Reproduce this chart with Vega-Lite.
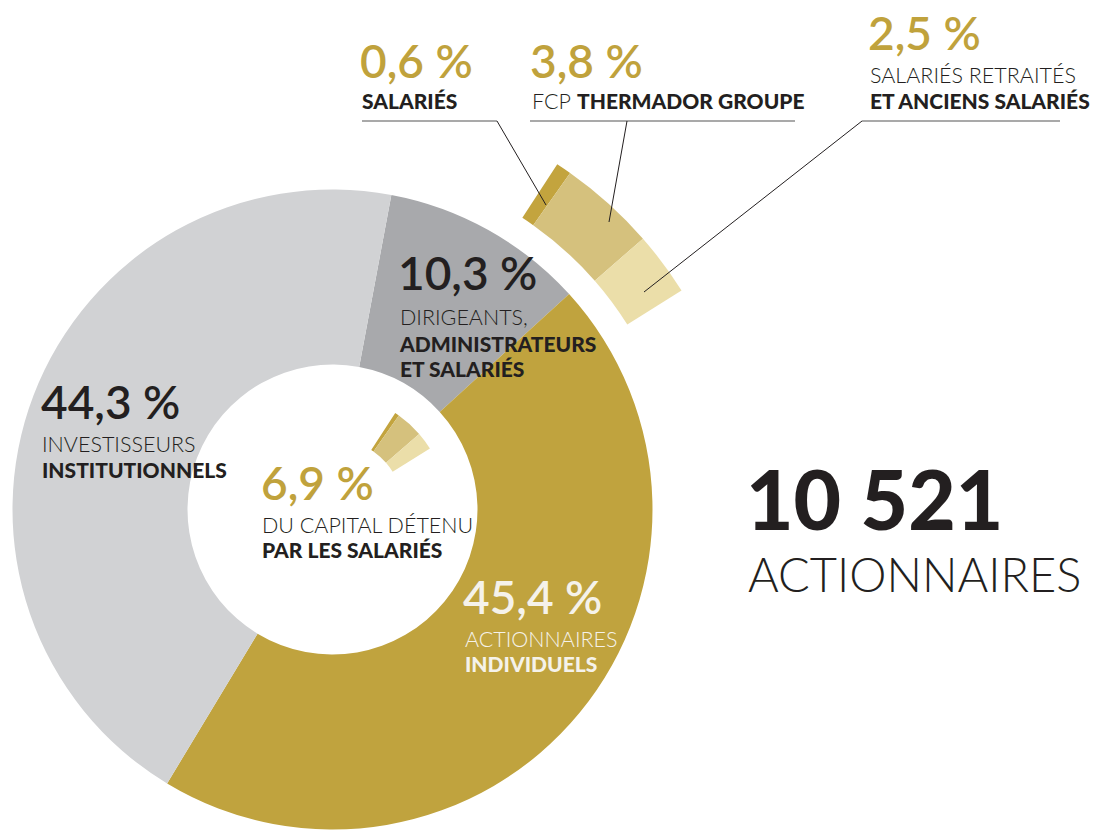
{
  "$schema": "https://vega.github.io/schema/vega-lite/v6.json",
  "width": 1094,
  "height": 830,
  "padding": 0,
  "autosize": {"type": "none"},
  "background": "white",
  "config": {"view": {"stroke": null}, "text": {"font": "Lato"}},
  "datasets": {
    "main": [
      {"group": "Dirigeants, administrateurs et salariés", "value": 10.3, "rank": 1},
      {"group": "Actionnaires individuels", "value": 45.4, "rank": 2},
      {"group": "Investisseurs institutionnels", "value": 44.3, "rank": 3}
    ],
    "staff": [
      {"group": "Salariés", "value": 0.6, "rank": 1},
      {"group": "FCP Thermador Groupe", "value": 3.8, "rank": 2},
      {"group": "Salariés retraités et anciens salariés", "value": 2.5, "rank": 3}
    ]
  },
  "layer": [
    {
      "data": {"name": "main"},
      "mark": {"type": "arc", "x": 332.5, "y": 509.5, "innerRadius": 145, "outerRadius": 320},
      "encoding": {
        "theta": {"field": "value", "type": "quantitative", "stack": true, "scale": {"domain": [0, 100], "range": [0.185, 6.4682]}},
        "order": {"field": "rank", "type": "quantitative"},
        "color": {"field": "group", "type": "nominal", "legend": null,
          "scale": {"domain": ["Dirigeants, administrateurs et salariés", "Actionnaires individuels", "Investisseurs institutionnels"], "range": ["#a8a9ac", "#c0a33e", "#d1d2d4"]}}
      }
    },
    {
      "data": {"name": "staff"},
      "mark": {"type": "arc", "x": 332.5, "y": 509.5, "innerRadius": 348, "outerRadius": 412},
      "encoding": {
        "theta": {"field": "value", "type": "quantitative", "stack": true, "scale": {"domain": [0, 100], "range": [0.577, 6.8602]}},
        "order": {"field": "rank", "type": "quantitative"},
        "color": {"field": "group", "type": "nominal", "legend": null,
          "scale": {"domain": ["Salariés", "FCP Thermador Groupe", "Salariés retraités et anciens salariés"], "range": ["#c3a43e", "#d5c17d", "#ebdea9"]}}
      }
    },
    {
      "data": {"name": "staff"},
      "mark": {"type": "arc", "x": 332.5, "y": 509.5, "innerRadius": 71, "outerRadius": 115},
      "encoding": {
        "theta": {"field": "value", "type": "quantitative", "stack": true, "scale": {"domain": [0, 100], "range": [0.577, 6.8602]}},
        "order": {"field": "rank", "type": "quantitative"},
        "color": {"field": "group", "type": "nominal", "legend": null,
          "scale": {"domain": ["Salariés", "FCP Thermador Groupe", "Salariés retraités et anciens salariés"], "range": ["#c3a43e", "#d5c17d", "#ebdea9"]}}
      }
    },
    {"data": {"values": [{}]}, "mark": {"type": "rule", "stroke": "#8c8c8c", "strokeWidth": 1.5}, "encoding": {"x": {"value": 362}, "y": {"value": 121}, "x2": {"value": 497}, "y2": {"value": 121}}},
    {"data": {"values": [{}]}, "mark": {"type": "rule", "stroke": "#8c8c8c", "strokeWidth": 1.5}, "encoding": {"x": {"value": 530}, "y": {"value": 121}, "x2": {"value": 795}, "y2": {"value": 121}}},
    {"data": {"values": [{}]}, "mark": {"type": "rule", "stroke": "#8c8c8c", "strokeWidth": 1.5}, "encoding": {"x": {"value": 862}, "y": {"value": 121}, "x2": {"value": 1060}, "y2": {"value": 121}}},
    {"data": {"values": [{}]}, "mark": {"type": "rule", "stroke": "#231f20", "strokeWidth": 1}, "encoding": {"x": {"value": 497}, "y": {"value": 121}, "x2": {"value": 546}, "y2": {"value": 205}}},
    {"data": {"values": [{}]}, "mark": {"type": "rule", "stroke": "#231f20", "strokeWidth": 1}, "encoding": {"x": {"value": 627}, "y": {"value": 121}, "x2": {"value": 609}, "y2": {"value": 222}}},
    {"data": {"values": [{}]}, "mark": {"type": "rule", "stroke": "#231f20", "strokeWidth": 1}, "encoding": {"x": {"value": 862}, "y": {"value": 121}, "x2": {"value": 644}, "y2": {"value": 292}}},

    {"data": {"values": [{"label": "44,3 %"}]}, "mark": {"type": "text", "x": 41, "y": 419, "align": "left", "baseline": "alphabetic", "fontSize": 46, "fontWeight": 600, "color": "#231f20"}, "encoding": {"text": {"field": "label"}}},
    {"data": {"values": [{"label": "INVESTISSEURS"}]}, "mark": {"type": "text", "x": 42, "y": 452, "align": "left", "baseline": "alphabetic", "fontSize": 21.5, "fontWeight": 300, "color": "#231f20"}, "encoding": {"text": {"field": "label"}}},
    {"data": {"values": [{"label": "INSTITUTIONNELS"}]}, "mark": {"type": "text", "x": 42, "y": 478, "align": "left", "baseline": "alphabetic", "fontSize": 21, "fontWeight": 900, "color": "#231f20"}, "encoding": {"text": {"field": "label"}}},

    {"data": {"values": [{"label": "10,3 %"}]}, "mark": {"type": "text", "x": 398, "y": 290, "align": "left", "baseline": "alphabetic", "fontSize": 46, "fontWeight": 600, "color": "#231f20"}, "encoding": {"text": {"field": "label"}}},
    {"data": {"values": [{"label": "DIRIGEANTS,"}]}, "mark": {"type": "text", "x": 400, "y": 325, "align": "left", "baseline": "alphabetic", "fontSize": 21.5, "fontWeight": 300, "color": "#231f20"}, "encoding": {"text": {"field": "label"}}},
    {"data": {"values": [{"label": "ADMINISTRATEURS"}]}, "mark": {"type": "text", "x": 400, "y": 352, "align": "left", "baseline": "alphabetic", "fontSize": 21, "fontWeight": 900, "color": "#231f20"}, "encoding": {"text": {"field": "label"}}},
    {"data": {"values": [{"label": "ET SALARIÉS"}]}, "mark": {"type": "text", "x": 400, "y": 377, "align": "left", "baseline": "alphabetic", "fontSize": 21, "fontWeight": 900, "color": "#231f20"}, "encoding": {"text": {"field": "label"}}},

    {"data": {"values": [{"label": "6,9 %"}]}, "mark": {"type": "text", "x": 261, "y": 500, "align": "left", "baseline": "alphabetic", "fontSize": 46, "fontWeight": 600, "color": "#c0a23c"}, "encoding": {"text": {"field": "label"}}},
    {"data": {"values": [{"label": "DU CAPITAL DÉTENU"}]}, "mark": {"type": "text", "x": 262, "y": 533, "align": "left", "baseline": "alphabetic", "fontSize": 21.5, "fontWeight": 300, "color": "#231f20"}, "encoding": {"text": {"field": "label"}}},
    {"data": {"values": [{"label": "PAR LES SALARIÉS"}]}, "mark": {"type": "text", "x": 262, "y": 558, "align": "left", "baseline": "alphabetic", "fontSize": 21, "fontWeight": 900, "color": "#231f20"}, "encoding": {"text": {"field": "label"}}},

    {"data": {"values": [{"label": "45,4 %"}]}, "mark": {"type": "text", "x": 463, "y": 614, "align": "left", "baseline": "alphabetic", "fontSize": 46, "fontWeight": 600, "color": "#f5f2ea"}, "encoding": {"text": {"field": "label"}}},
    {"data": {"values": [{"label": "ACTIONNAIRES"}]}, "mark": {"type": "text", "x": 465, "y": 647, "align": "left", "baseline": "alphabetic", "fontSize": 21.5, "fontWeight": 300, "color": "#f5f2ea"}, "encoding": {"text": {"field": "label"}}},
    {"data": {"values": [{"label": "INDIVIDUELS"}]}, "mark": {"type": "text", "x": 465, "y": 672, "align": "left", "baseline": "alphabetic", "fontSize": 21, "fontWeight": 900, "color": "#f5f2ea"}, "encoding": {"text": {"field": "label"}}},

    {"data": {"values": [{"label": "0,6 %"}]}, "mark": {"type": "text", "x": 360, "y": 78, "align": "left", "baseline": "alphabetic", "fontSize": 46, "fontWeight": 600, "color": "#c0a23c"}, "encoding": {"text": {"field": "label"}}},
    {"data": {"values": [{"label": "SALARIÉS"}]}, "mark": {"type": "text", "x": 362, "y": 109, "align": "left", "baseline": "alphabetic", "fontSize": 21, "fontWeight": 900, "color": "#231f20"}, "encoding": {"text": {"field": "label"}}},

    {"data": {"values": [{"label": "3,8 %"}]}, "mark": {"type": "text", "x": 530, "y": 78, "align": "left", "baseline": "alphabetic", "fontSize": 46, "fontWeight": 600, "color": "#c0a23c"}, "encoding": {"text": {"field": "label"}}},
    {"data": {"values": [{"label": "FCP"}]}, "mark": {"type": "text", "x": 532, "y": 109, "align": "left", "baseline": "alphabetic", "fontSize": 21.5, "fontWeight": 300, "color": "#231f20"}, "encoding": {"text": {"field": "label"}}},
    {"data": {"values": [{"label": "THERMADOR GROUPE"}]}, "mark": {"type": "text", "x": 577, "y": 109, "align": "left", "baseline": "alphabetic", "fontSize": 21, "fontWeight": 900, "color": "#231f20"}, "encoding": {"text": {"field": "label"}}},

    {"data": {"values": [{"label": "2,5 %"}]}, "mark": {"type": "text", "x": 868, "y": 50, "align": "left", "baseline": "alphabetic", "fontSize": 46, "fontWeight": 600, "color": "#c0a23c"}, "encoding": {"text": {"field": "label"}}},
    {"data": {"values": [{"label": "SALARIÉS RETRAITÉS"}]}, "mark": {"type": "text", "x": 870, "y": 83, "align": "left", "baseline": "alphabetic", "fontSize": 21.5, "fontWeight": 300, "color": "#231f20"}, "encoding": {"text": {"field": "label"}}},
    {"data": {"values": [{"label": "ET ANCIENS SALARIÉS"}]}, "mark": {"type": "text", "x": 870, "y": 109, "align": "left", "baseline": "alphabetic", "fontSize": 21, "fontWeight": 900, "color": "#231f20"}, "encoding": {"text": {"field": "label"}}},

    {"data": {"values": [{"label": "10 521"}]}, "mark": {"type": "text", "x": 746, "y": 530, "align": "left", "baseline": "alphabetic", "fontSize": 82, "fontWeight": 900, "color": "#231f20"}, "encoding": {"text": {"field": "label"}}},
    {"data": {"values": [{"label": "ACTIONNAIRES"}]}, "mark": {"type": "text", "x": 748, "y": 592, "align": "left", "baseline": "alphabetic", "fontSize": 47, "fontWeight": 300, "color": "#231f20"}, "encoding": {"text": {"field": "label"}}}
  ],
  "resolve": {"scale": {"theta": "independent", "color": "independent"}}
}
